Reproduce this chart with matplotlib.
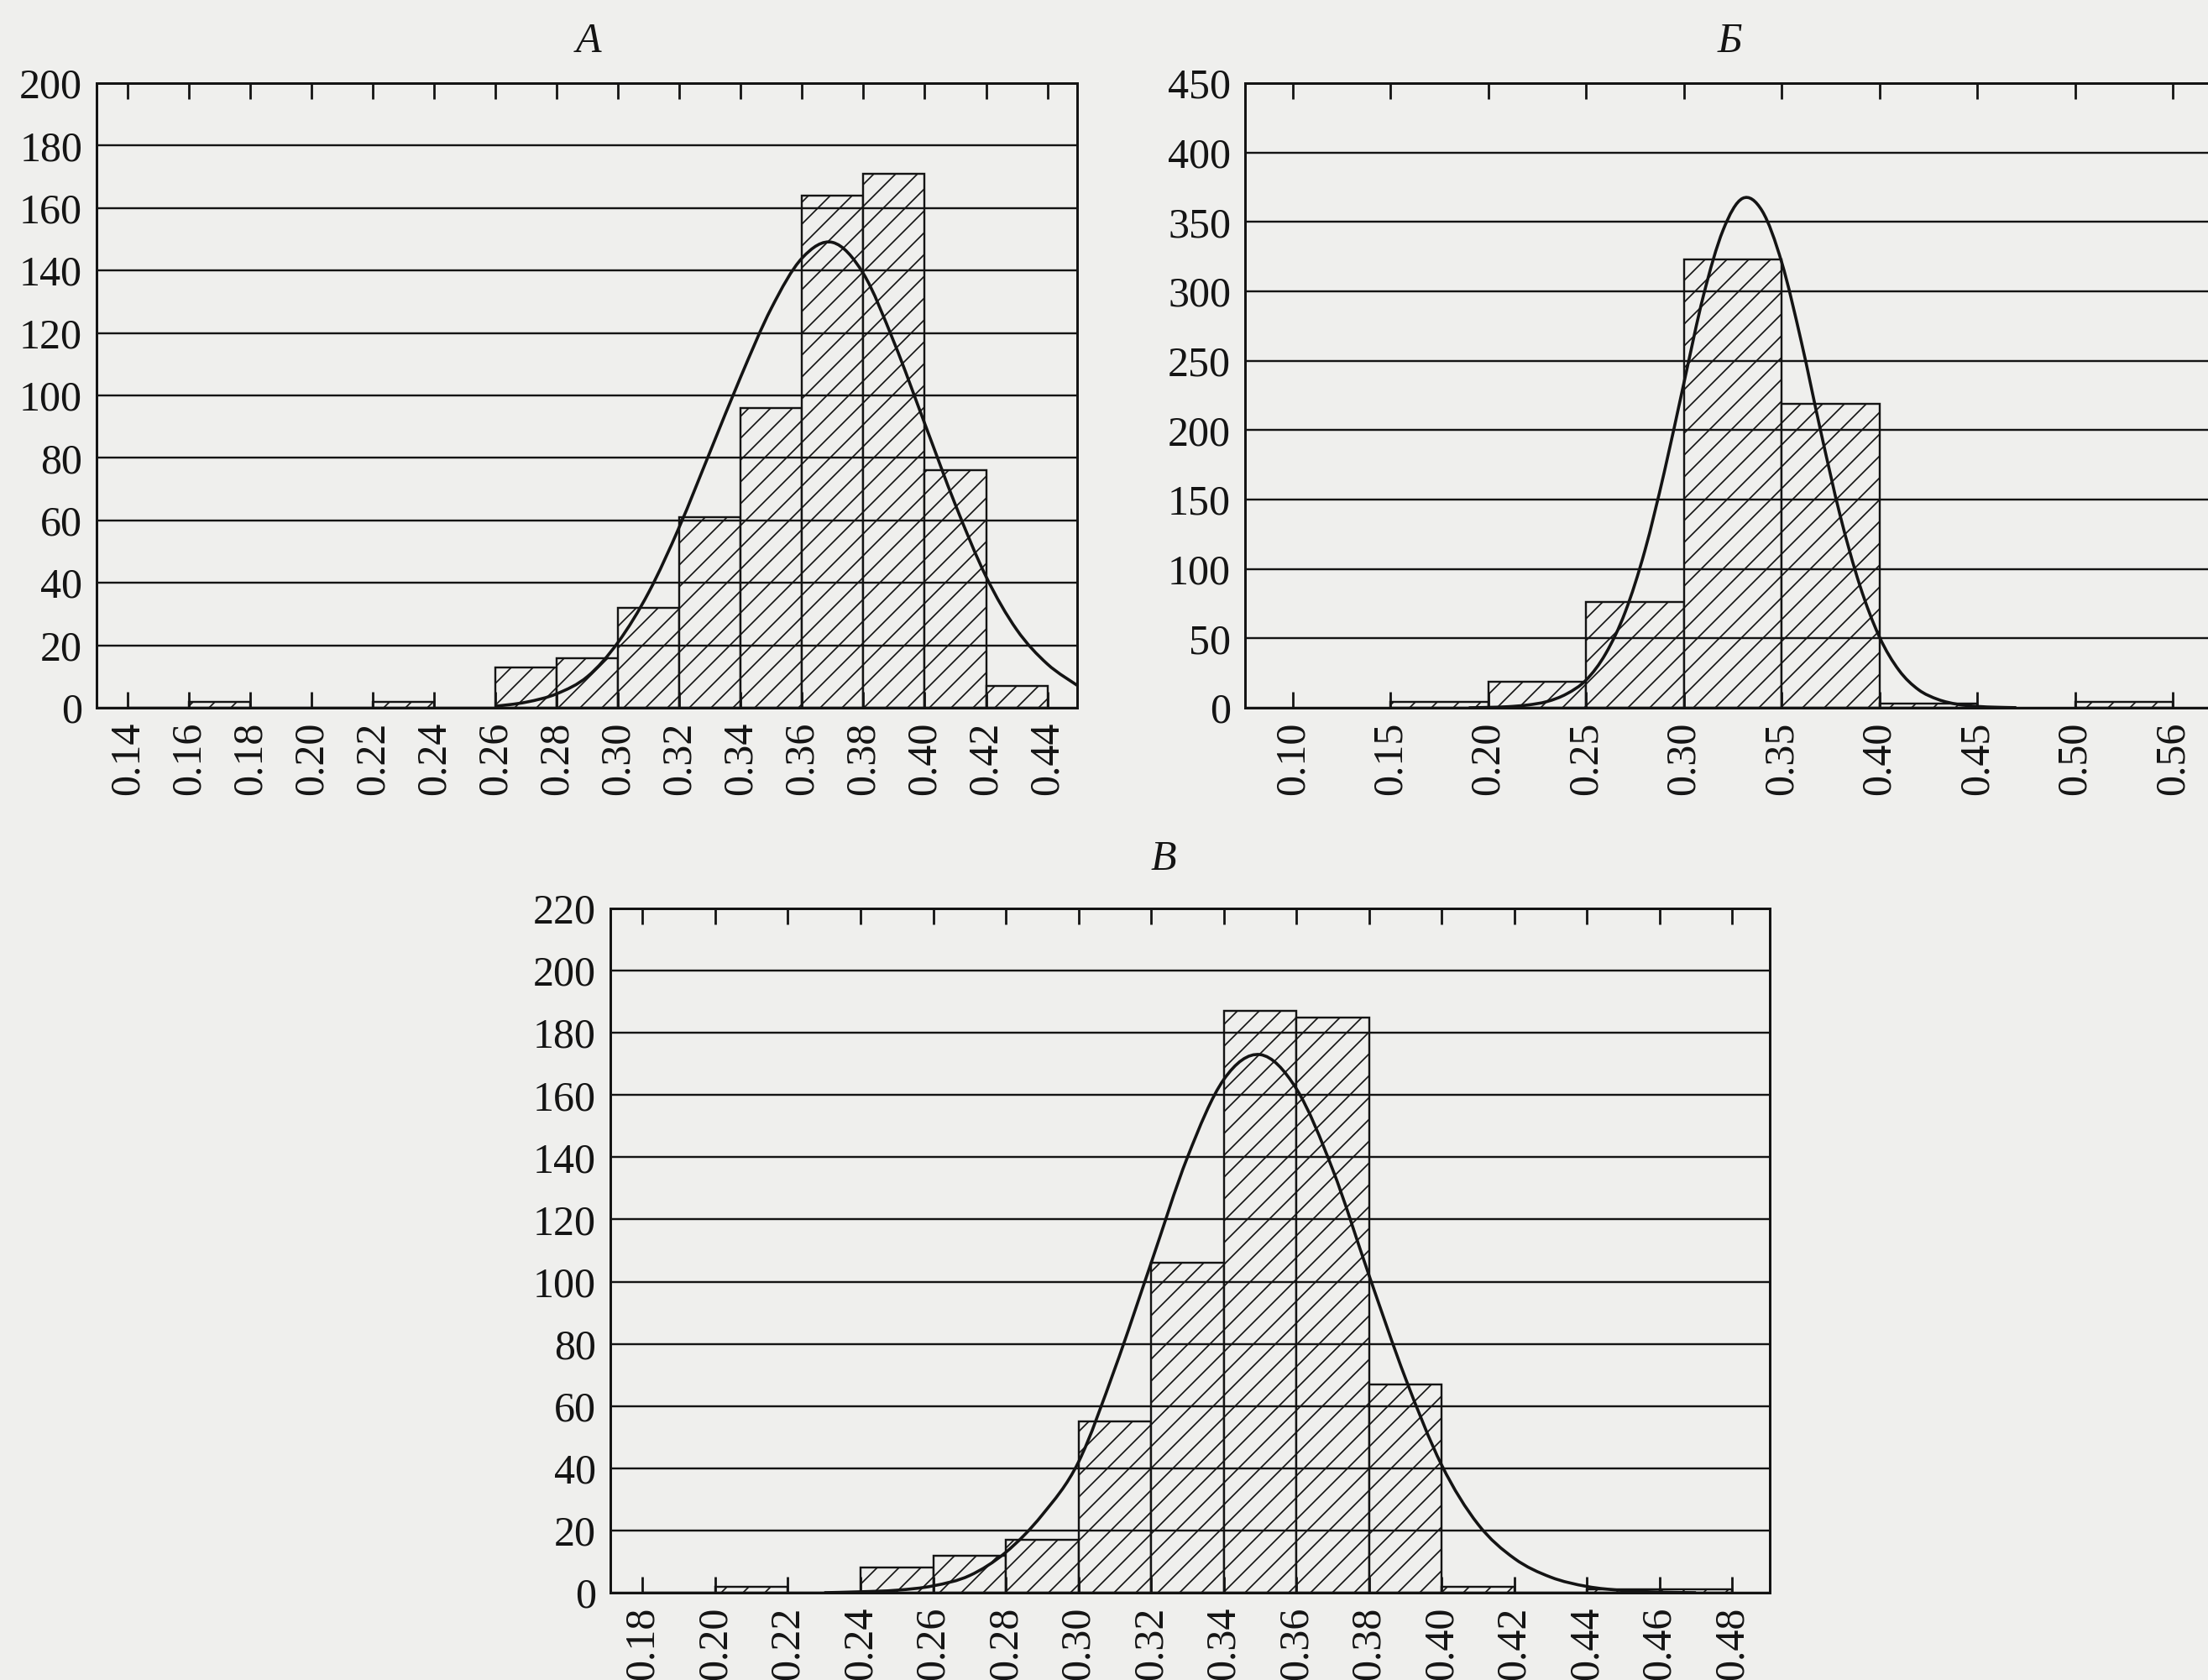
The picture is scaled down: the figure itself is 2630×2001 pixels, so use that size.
import matplotlib
matplotlib.use("Agg")
import matplotlib.pyplot as plt
from matplotlib.path import Path
from matplotlib.patches import PathPatch

# hatch spacing follows the dpi, so a lower dpi gives the tighter hatching of the scan
DPI = 78

def pt(px):
    return px * 72.0 / DPI

plt.rcParams['font.family'] = ['Liberation Serif', 'DejaVu Serif']
plt.rcParams['hatch.linewidth'] = pt(1.7)

BG = '#efefed'
INK = '#141414'

# panel A
A_ticks = [0.14, 0.16, 0.18, 0.20, 0.22, 0.24, 0.26, 0.28, 0.30, 0.32, 0.34, 0.36, 0.38, 0.40, 0.42, 0.44]
A_labels = ["0.14", "0.16", "0.18", "0.20", "0.22", "0.24", "0.26", "0.28", "0.30", "0.32",
            "0.34", "0.36", "0.38", "0.40", "0.42", "0.44"]
A_bin_left = [0.14, 0.16, 0.18, 0.20, 0.22, 0.24, 0.26, 0.28, 0.30, 0.32, 0.34, 0.36, 0.38, 0.40, 0.42]
A_counts = [0, 2, 0, 0, 2, 0, 13, 16, 32, 61, 96, 164, 171, 76, 7]
A_curve_x = [0.26, 0.27, 0.28, 0.29, 0.30, 0.31, 0.32, 0.33, 0.34, 0.35, 0.36, 0.37, 0.38,
             0.39, 0.40, 0.41, 0.42, 0.43, 0.44, 0.45]
A_curve_y = [0.5, 1.8, 4.5, 10, 21, 37, 58, 82, 106, 128, 144, 149, 139, 117, 91, 65, 42, 25, 14, 7]

# panel Б (last tick is labelled 0.56 but sits one step after 0.50)
B_ticks = [0.10, 0.15, 0.20, 0.25, 0.30, 0.35, 0.40, 0.45, 0.50, 0.55]
B_labels = ["0.10", "0.15", "0.20", "0.25", "0.30", "0.35", "0.40", "0.45", "0.50", "0.56"]
B_bin_left = [0.15, 0.20, 0.25, 0.30, 0.35, 0.40, 0.50]
B_counts = [4, 19, 76, 323, 219, 3, 4]
B_curve_x = [0.19, 0.20, 0.21, 0.22, 0.23, 0.24, 0.25, 0.26, 0.27, 0.28, 0.29, 0.30, 0.31, 0.32,
             0.33, 0.34, 0.35, 0.36, 0.37, 0.38, 0.39, 0.40, 0.41, 0.42, 0.43, 0.44, 0.45, 0.46, 0.47]
B_curve_y = [0, 0.3, 0.8, 2, 4.5, 10, 20, 39, 69, 113, 170, 234, 297, 344, 367, 358, 321, 264,
             199, 138, 88, 51, 27, 13, 6, 2.5, 1, 0.4, 0.1]

# panel В
C_ticks = [0.18, 0.20, 0.22, 0.24, 0.26, 0.28, 0.30, 0.32, 0.34, 0.36, 0.38, 0.40, 0.42, 0.44, 0.46, 0.48]
C_labels = ["0.18", "0.20", "0.22", "0.24", "0.26", "0.28", "0.30", "0.32", "0.34", "0.36",
            "0.38", "0.40", "0.42", "0.44", "0.46", "0.48"]
C_bin_left = [0.18, 0.20, 0.22, 0.24, 0.26, 0.28, 0.30, 0.32, 0.34, 0.36, 0.38, 0.40, 0.42, 0.44, 0.46]
C_counts = [0, 2, 0, 8, 12, 17, 55, 106, 187, 185, 67, 2, 0, 1, 1]
C_curve_x = [0.23, 0.24, 0.25, 0.26, 0.27, 0.28, 0.29, 0.30, 0.31, 0.32, 0.33, 0.34, 0.35, 0.36,
             0.37, 0.38, 0.39, 0.40, 0.41, 0.42, 0.43, 0.44, 0.45, 0.46, 0.47]
C_curve_y = [0, 0.3, 0.8, 2.2, 5.5, 13, 25, 42, 72, 106, 140, 165, 173, 162, 136, 102, 69, 41,
             22, 11, 5, 2, 0.7, 0.2, 0]


def smoothPath(xs, ys):
    pts = list(zip(xs, ys))
    verts = [pts[0]]
    codes = [Path.MOVETO]
    n = len(pts)
    for i in range(n - 1):
        p0 = pts[max(i - 1, 0)]
        p1 = pts[i]
        p2 = pts[i + 1]
        p3 = pts[min(i + 2, n - 1)]
        c1 = (p1[0] + (p2[0] - p0[0]) / 6, p1[1] + (p2[1] - p0[1]) / 6)
        c2 = (p2[0] - (p3[0] - p1[0]) / 6, p2[1] - (p3[1] - p1[1]) / 6)
        verts += [c1, c2, p2]
        codes += [Path.CURVE4] * 3
    return Path(verts, codes)


def drawPanel(ax, title, titleX, titleY, lefts, counts, width, ticks, labels,
              curveX, curveY, xlim, ymax, ystep):
    fs = pt(50)
    ax.set_facecolor(BG)
    ax.set_axisbelow(False)
    ax.bar(lefts, counts, width=width, align='edge', facecolor=BG, edgecolor=INK,
           linewidth=pt(2.4), hatch='/', zorder=1)
    ax.add_patch(PathPatch(smoothPath(curveX, curveY), facecolor='none', edgecolor=INK,
                           linewidth=pt(3.6), zorder=4))
    ax.set_xlim(xlim)
    ax.set_ylim(0, ymax)
    ax.set_xticks(ticks)
    ax.set_xticklabels(labels, rotation=90)
    ax.set_yticks(list(range(0, ymax + 1, ystep)))
    ax.yaxis.grid(True, color=INK, linewidth=pt(2.4))
    ax.tick_params(axis='x', direction='in', length=pt(19), width=pt(2.8), color=INK,
                   top=True, pad=pt(17), labelsize=fs, labelcolor=INK)
    ax.tick_params(axis='y', length=0, pad=pt(17), labelsize=fs, labelcolor=INK)
    for s in ax.spines.values():
        s.set_linewidth(pt(3.0))
        s.set_color(INK)
    ax.text(titleX, titleY, title, transform=ax.transAxes, ha='center', va='center',
            fontsize=fs, fontstyle='italic', color=INK)


fig = plt.figure(figsize=(2630 / DPI, 2001 / DPI), dpi=DPI)
fig.patch.set_facecolor(BG)

axA = fig.add_axes([0.04373, 0.5787, 0.4441, 0.3718])
axB = fig.add_axes([0.5639, 0.5787, 0.4414, 0.3718])
axC = fig.add_axes([0.2764, 0.05197, 0.5251, 0.4073])

drawPanel(axA, "А", 0.502, 1.066, A_bin_left, A_counts, 0.02, A_ticks, A_labels,
          A_curve_x, A_curve_y, (0.1299, 0.4497), 200, 20)
drawPanel(axB, "Б", 0.497, 1.066, B_bin_left, B_counts, 0.05, B_ticks, B_labels,
          B_curve_x, B_curve_y, (0.0756, 0.574), 450, 50)
drawPanel(axC, "В", 0.477, 1.072, C_bin_left, C_counts, 0.02, C_ticks, C_labels,
          C_curve_x, C_curve_y, (0.1711, 0.4903), 220, 20)

plt.savefig("out.png", dpi=DPI, facecolor=BG)
